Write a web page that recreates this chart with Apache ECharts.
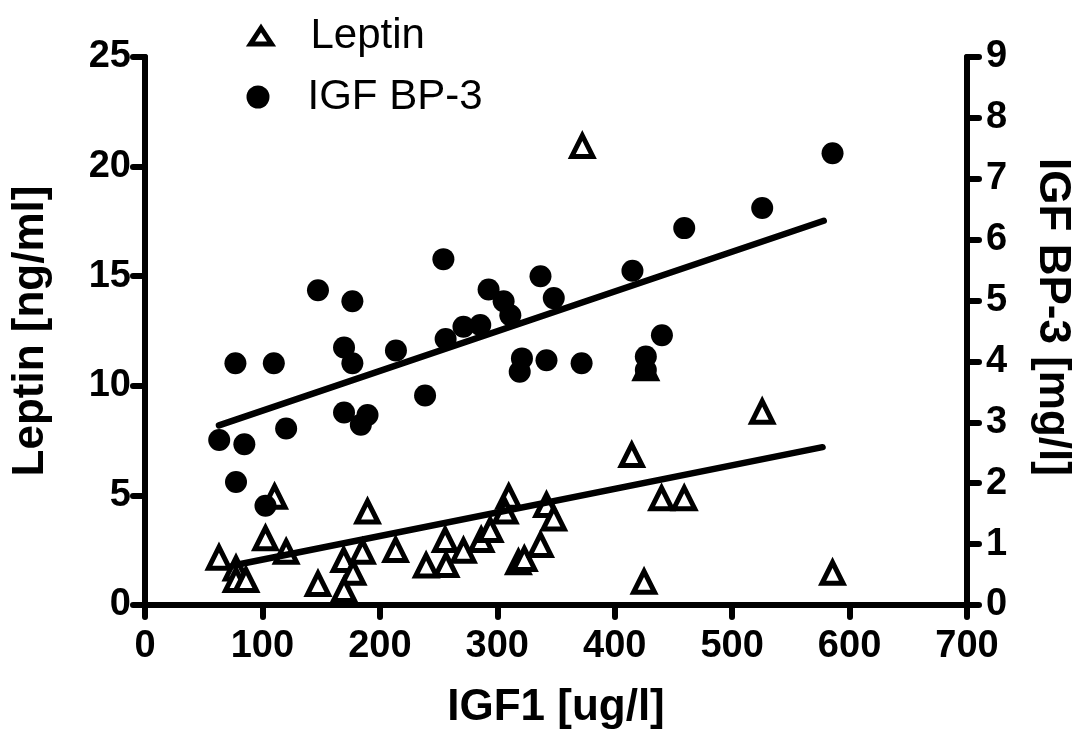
<!DOCTYPE html>
<html>
<head>
<meta charset="utf-8">
<title>Leptin and IGF BP-3 vs IGF1</title>
<script src="https://cdn.jsdelivr.net/npm/echarts@6/dist/echarts.min.js"></script>
<style>
  html, body { margin: 0; padding: 0; background: #fff; }
  #chart { width: 1088px; height: 735px; }
</style>
</head>
<body>
<div id="chart"></div>
<script>
// IGF1 [ug/l] and leptin [ng/ml] per subject
const leptinIgf1 = [63, 77.5, 77.5, 86, 102.6, 110.3, 120.2, 147.3, 169.2, 177.2, 169.5, 185.2, 189.5, 213.4, 239.4, 255.6, 256.4, 271.2, 286.3, 294, 309.7, 306.8, 318, 323, 336.8, 341.9, 348.1, 372.4, 414.5, 425, 426.5, 439.9, 459.2, 525.6, 585.5];
const leptinValues = [2.16, 1.67, 1.14, 1.14, 3.04, 4.94, 2.43, 0.96, 2.05, 1.47, 0.68, 2.43, 4.26, 2.51, 1.80, 2.97, 1.82, 2.48, 2.97, 3.42, 4.94, 4.26, 1.95, 2.1, 2.74, 4.56, 3.95, 20.94, 6.84, 1.06, 10.8, 4.87, 4.87, 8.82, 1.47];

// IGF1 [ug/l] and IGF BP-3 [mg/l] per subject
const bp3Igf1 = [63.2, 77, 77.5, 84.6, 102.6, 109.7, 120.2, 147.3, 169.5, 169.5, 176.6, 176.6, 183.8, 189.5, 213.7, 238.5, 254.1, 256, 271.2, 285.5, 292.6, 305.4, 311.1, 321, 319.1, 336.8, 341.9, 348.1, 371.8, 415.1, 426.5, 426.5, 440.2, 459.2, 525.6, 585.5];
const bp3Values = [2.71, 3.97, 2.02, 2.64, 1.63, 3.97, 2.90, 5.17, 4.23, 3.16, 4.99, 3.97, 2.96, 3.12, 4.18, 3.44, 5.68, 4.37, 4.57, 4.60, 5.18, 4.99, 4.76, 4.05, 3.83, 5.40, 4.02, 5.04, 3.97, 5.49, 4.08, 3.86, 4.43, 6.19, 6.52, 7.42];

// Linear regression lines (end points)
const leptinFitX = [75, 577];
const leptinFitY = [1.8, 7.2];
const bp3FitX = [63, 578];
const bp3FitY = [2.95, 6.31];

const pairs = (xs, ys) => xs.map((x, i) => [x, ys[i]]);

const FONT = 'Liberation Sans, Arial, Helvetica, sans-serif';
const axisLineStyle = { color: '#000', width: 6, cap: 'round' };
const tickStyle = { color: '#000', width: 6, cap: 'round' };
const labelStyle = { color: '#000', fontFamily: FONT, fontWeight: 'bold', fontSize: 38 };
const nameStyle = { color: '#000', fontFamily: FONT, fontWeight: 'bold', fontSize: 44 };
const legendText = { color: '#000', fontFamily: FONT, fontSize: 42, lineHeight: 42 };

const triangleStyle = { color: '#fff', borderColor: '#000', borderWidth: 5, opacity: 1 };
const circleStyle = { color: '#000', opacity: 1 };

const chart = echarts.init(document.getElementById('chart'), null, { renderer: 'canvas' });

chart.setOption({
  animation: false,
  backgroundColor: '#fff',
  grid: { left: 145, right: 121, top: 57, bottom: 130, outerBoundsMode: 'none' },
  legend: [
    {
      data: [{ name: 'Leptin', icon: 'triangle', itemStyle: triangleStyle }],
      orient: 'vertical',
      left: 243,
      top: 10,
      itemWidth: 21,
      itemHeight: 16,
      selectedMode: false,
      textStyle: Object.assign({ padding: [0, 0, 0, 34] }, legendText)
    },
    {
      data: [{ name: 'IGF BP-3', icon: 'circle', itemStyle: circleStyle }],
      orient: 'vertical',
      left: 241.5,
      top: 71,
      itemWidth: 23,
      itemHeight: 23,
      selectedMode: false,
      textStyle: Object.assign({ padding: [0, 0, 0, 33] }, legendText)
    }
  ],
  xAxis: {
    type: 'value',
    min: 0,
    max: 700,
    interval: 100,
    name: 'IGF1 [ug/l]',
    nameLocation: 'middle',
    nameGap: 81,
    nameTextStyle: nameStyle,
    axisLine: { show: true, onZero: false, lineStyle: axisLineStyle },
    axisTick: { show: true, length: 12, lineStyle: tickStyle },
    axisLabel: Object.assign({ margin: 23 }, labelStyle),
    splitLine: { show: false }
  },
  yAxis: [
    {
      type: 'value',
      position: 'left',
      min: 0,
      max: 25,
      interval: 5,
      name: 'Leptin [ng/ml]',
      nameLocation: 'middle',
      nameRotate: 90,
      nameGap: 92,
      nameTextStyle: nameStyle,
      axisLine: { show: true, onZero: false, lineStyle: axisLineStyle },
      axisTick: { show: true, length: 12, lineStyle: tickStyle },
      axisLabel: Object.assign({ margin: 14 }, labelStyle),
      splitLine: { show: false }
    },
    {
      type: 'value',
      position: 'right',
      min: 0,
      max: 9,
      interval: 1,
      name: 'IGF BP-3 [mg/l]',
      nameLocation: 'middle',
      nameRotate: -90,
      nameGap: 63,
      nameTextStyle: Object.assign({ padding: [0, 28, 0, 0] }, nameStyle),
      axisLine: { show: true, onZero: false, lineStyle: axisLineStyle },
      axisTick: { show: true, length: 12, lineStyle: tickStyle },
      axisLabel: Object.assign({ margin: 19 }, labelStyle),
      splitLine: { show: false }
    }
  ],
  series: [
    {
      name: 'Leptin',
      type: 'scatter',
      yAxisIndex: 0,
      symbol: 'triangle',
      symbolSize: 21,
      itemStyle: triangleStyle,
      z: 2,
      data: pairs(leptinIgf1, leptinValues)
    },
    {
      name: 'IGF BP-3',
      type: 'scatter',
      yAxisIndex: 1,
      symbol: 'circle',
      symbolSize: 22,
      itemStyle: circleStyle,
      z: 3,
      data: pairs(bp3Igf1, bp3Values)
    },
    {
      name: 'Leptin fit',
      type: 'line',
      yAxisIndex: 0,
      symbol: 'none',
      lineStyle: { color: '#000', width: 6.5, cap: 'round' },
      z: 4,
      data: pairs(leptinFitX, leptinFitY)
    },
    {
      name: 'IGF BP-3 fit',
      type: 'line',
      yAxisIndex: 1,
      symbol: 'none',
      lineStyle: { color: '#000', width: 6.5, cap: 'round' },
      z: 4,
      data: pairs(bp3FitX, bp3FitY)
    }
  ]
});
</script>
</body>
</html>
